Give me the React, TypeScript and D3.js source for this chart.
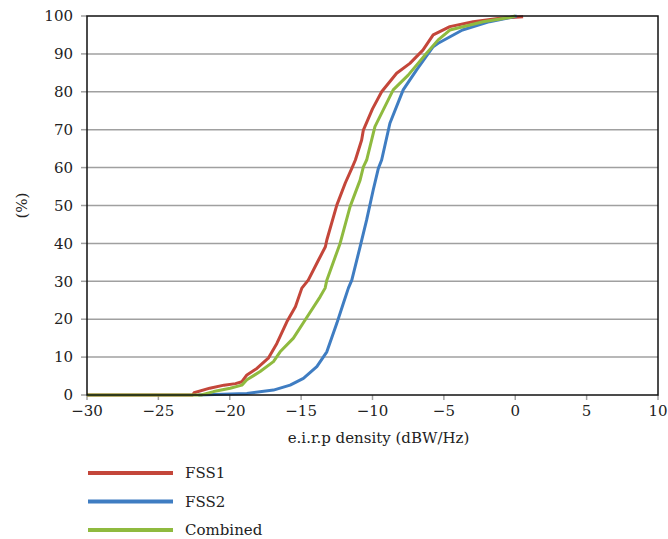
import React, { useEffect, useRef } from "react";
import * as d3 from "d3";

// cumulative distributions: [e.i.r.p density dBW/Hz, %]
const fss1: [number, number][] = [
  [-30, 0], [-22.6, 0], [-22.5, 0.6], [-21.4, 1.8], [-20.4, 2.6], [-19.6, 3.0], [-19.15, 3.5],
  [-18.8, 5.3], [-18.1, 7], [-17.3, 9.7], [-16.7, 13.6], [-16.0, 19.3], [-15.4, 23.3],
  [-14.95, 28.2], [-14.5, 30.3], [-13.8, 35.5], [-13.3, 39.1], [-13.2, 40.9], [-12.5, 50.1],
  [-11.9, 56], [-11.45, 59.8], [-11.2, 62], [-10.76, 67.3], [-10.64, 69.9], [-10.0, 75.5],
  [-9.36, 80], [-8.31, 84.9], [-7.38, 87.5], [-6.47, 91], [-5.75, 95], [-4.58, 97.2],
  [-2.95, 98.5], [-1.08, 99.4], [0.55, 99.8],
];

const fss2: [number, number][] = [
  [-22.2, 0], [-20.5, 0.2], [-18.8, 0.4], [-16.94, 1.3], [-15.77, 2.6], [-14.84, 4.4],
  [-13.9, 7.5], [-13.2, 11.4], [-12.5, 18.9], [-12.04, 24.2], [-11.69, 28.2], [-11.45, 30.3],
  [-10.87, 39.1], [-10.41, 46.2], [-9.95, 54.1], [-9.59, 59.8], [-9.36, 62], [-8.78, 71.7],
  [-7.85, 80.5], [-6.91, 85.8], [-5.75, 91.9], [-5.4, 92.8], [-3.7, 96.3], [-1.8, 98.5],
  [-0.6, 99.4], [0.1, 100],
];

const combined: [number, number][] = [
  [-30, 0], [-22.0, 0], [-21.13, 0.9], [-19.97, 1.8], [-19.15, 2.6], [-18.8, 4], [-17.87, 6.2],
  [-16.94, 8.8], [-16.47, 11.4], [-15.54, 15], [-14.72, 19.8], [-13.67, 25.9], [-13.32, 28.2],
  [-13.2, 30.3], [-12.27, 40], [-11.57, 49.7], [-10.87, 56.7], [-10.64, 60.2], [-10.41, 62],
  [-9.83, 70.8], [-8.55, 80.5], [-7.5, 84.4], [-6.21, 90.2], [-5.4, 93.7], [-4.58, 96.3],
  [-2.25, 98.5], [-0.4, 99.6], [0.0, 100],
];

const series = [
  { name: "FSS1", color: "#c4463a", points: fss1 },
  { name: "FSS2", color: "#3f7dc2", points: fss2 },
  { name: "Combined", color: "#8fba3f", points: combined },
];

const xTicks = [-30, -25, -20, -15, -10, -5, 0, 5, 10];
const yTicks = [0, 10, 20, 30, 40, 50, 60, 70, 80, 90, 100];

const W = 668;
const H = 539;
const FONT = "'DejaVu Serif', serif";

const Chart = () => {
  const ref = useRef<SVGSVGElement | null>(null);

  useEffect(() => {
    document.body.style.margin = "0";
    const svg = d3.select(ref.current);
    svg.selectAll("*").remove();

    const left = 87, right = 658, top = 16, bottom = 395;
    const x = d3.scaleLinear().domain([-30, 10]).range([left, right]);
    const y = d3.scaleLinear().domain([0, 100]).range([bottom, top]);

    // grid
    svg.append("g")
      .selectAll("line")
      .data(yTicks.filter((t) => t > 0 && t < 100))
      .join("line")
      .attr("x1", left).attr("x2", right)
      .attr("y1", (d) => y(d)).attr("y2", (d) => y(d))
      .attr("stroke", "#a0a0a0").attr("stroke-width", 1.5);

    // y ticks + labels
    svg.append("g")
      .selectAll("line")
      .data(yTicks)
      .join("line")
      .attr("x1", left - 6).attr("x2", left)
      .attr("y1", (d) => y(d)).attr("y2", (d) => y(d))
      .attr("stroke", "#a0a0a0").attr("stroke-width", 1.5);

    svg.append("g")
      .selectAll("text")
      .data(yTicks)
      .join("text")
      .attr("x", 73).attr("y", (d) => y(d))
      .attr("dy", "0.35em")
      .attr("text-anchor", "end")
      .style("font-family", FONT).style("font-size", "15px")
      .attr("fill", "#222")
      .text((d) => d);

    // x ticks + labels
    svg.append("g")
      .selectAll("line")
      .data(xTicks)
      .join("line")
      .attr("x1", (d) => x(d)).attr("x2", (d) => x(d))
      .attr("y1", bottom).attr("y2", bottom + 5)
      .attr("stroke", "#a0a0a0").attr("stroke-width", 1.5);

    svg.append("g")
      .selectAll("text")
      .data(xTicks)
      .join("text")
      .attr("x", (d) => x(d)).attr("y", 416)
      .attr("text-anchor", "middle")
      .style("font-family", FONT).style("font-size", "15px")
      .attr("fill", "#222")
      .text((d) => (d < 0 ? `\u2212${-d}` : `${d}`));

    // curves
    const line = d3.line<[number, number]>().x((d) => x(d[0])).y((d) => y(d[1]));
    series.forEach((s) => {
      svg.append("path")
        .datum(s.points)
        .attr("d", line)
        .attr("fill", "none")
        .attr("stroke", s.color)
        .attr("stroke-width", 3)
        .attr("stroke-linejoin", "round");
    });

    // frame
    svg.append("rect")
      .attr("x", left).attr("y", top)
      .attr("width", right - left).attr("height", bottom - top)
      .attr("fill", "none").attr("stroke", "#111").attr("stroke-width", 1.5);

    // axis titles
    svg.append("text")
      .attr("x", x(-10) + 6).attr("y", 443)
      .attr("text-anchor", "middle")
      .style("font-family", FONT).style("font-size", "15px")
      .attr("fill", "#222")
      .text("e.i.r.p density (dBW/Hz)");

    svg.append("text")
      .attr("transform", `translate(27,${y(50)}) rotate(-90)`)
      .attr("text-anchor", "middle")
      .style("font-family", FONT).style("font-size", "15px")
      .attr("fill", "#222")
      .text("(%)");

    // legend
    const legend = svg.append("g")
      .selectAll("g")
      .data(series)
      .join("g")
      .attr("transform", (_d, i) => `translate(88,${473 + i * 28.5})`);
    legend.append("line")
      .attr("x1", 0).attr("x2", 85)
      .attr("stroke", (d) => d.color).attr("stroke-width", 4);
    legend.append("text")
      .attr("x", 97).attr("dy", "0.35em")
      .style("font-family", FONT).style("font-size", "15px")
      .attr("fill", "#222")
      .text((d) => d.name);
  }, []);

  return <svg ref={ref} width={W} height={H} style={{ display: "block", background: "#fff" }} />;
};

export default function App() {
  return <Chart />;
}
